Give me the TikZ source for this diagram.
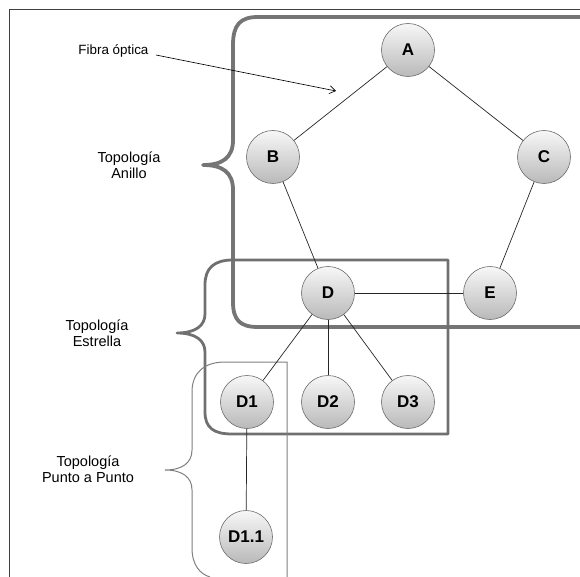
\documentclass[tikz,border=0pt]{standalone}
\usepackage{fontspec}
\setmainfont{Liberation Sans}
\usetikzlibrary{arrows.meta}
\tikzset{
  host/.style={circle, minimum size=53pt, inner sep=0pt, draw=gray!85!black, line width=0.6pt,
    top color=gray!6, bottom color=gray!55, font=\fontsize{17}{17}\selectfont\bfseries},
  link/.style={draw=black!85, line width=0.7pt},
  ringframe/.style={draw=gray!92!black, line width=3.8pt, line join=round},
  starframe/.style={draw=gray!88!black, line width=2.8pt, line join=round},
  ptpframe/.style={draw=gray, line width=1pt},
  grouplabel/.style={align=center, font=\fontsize{14.5}{16.5}\selectfont},
}
\begin{document}
\begin{tikzpicture}[x=1pt, y=-1pt]
\useasboundingbox (0,0) rectangle (580,577);
% page frame (top and left edges)
\draw[draw=gray!50!black, line width=1pt] (9,577) -- (9,10) -- (580,10);

% ring group: brace merged with a rounded box
\draw[ringframe] (580,17) -- (258,17) .. controls (240,17) and (233,25) .. (233,45)
  -- (233,140) .. controls (233,158) and (222,165) .. (203,165)
  .. controls (222,165) and (233,172) .. (233,190)
  -- (233,302) .. controls (233,320) and (240,327) .. (258,327) -- (580,327);

% star group
\draw[starframe] (233,260) -- (448,260) -- (448,434) -- (232,434)
  .. controls (214,434) and (205,428) .. (205,412)
  -- (205,352) .. controls (205,340) and (195,333) .. (177,333)
  .. controls (195,333) and (205,326) .. (205,314)
  -- (205,285) .. controls (205,268) and (214,260) .. (233,260);

% point-to-point group
\draw[ptpframe] (287,577) -- (287,362) -- (225,362)
  .. controls (205,362) and (192,372) .. (192,392)
  -- (192,450) .. controls (192,463) and (182,470) .. (165,470)
  .. controls (182,470) and (192,477) .. (192,490)
  -- (192,548) .. controls (192,565) and (200,574) .. (210,577);

% hosts
\node[host] (A) at (408,50) {A};
\node[host] (B) at (273,157) {B};
\node[host] (C) at (544,157) {C};
\node[host] (D) at (328,293) {D};
\node[host] (E) at (490,293) {E};
\node[host] (D1) at (247,402) {D1};
\node[host] (D2) at (328,402) {D2};
\node[host] (D3) at (408,402) {D3};
\node[host] (D11) at (246,537) {D1.1};

% links
\draw[link] (A) -- (B);
\draw[link] (A) -- (C);
\draw[link] (B) -- (D);
\draw[link] (C) -- (E);
\draw[link] (D) -- (E);
\draw[link] (D) -- (D1);
\draw[link] (D) -- (D2);
\draw[link] (D) -- (D3);
\draw[link] (D1) -- (D11);

% labels
\node[font=\fontsize{13.4}{15}\selectfont, anchor=east] (fibra) at (152,51) {Fibra óptica};
\coordinate (fibtip) at (336,91);
\draw[line width=0.6pt, -{Straight Barb[length=6pt, width=8pt]}] (fibra.east) ++(4,4) -- (fibtip);
\node[grouplabel] (anillo) at (129,165) {Topología\\Anillo};
\node[grouplabel] (estrella) at (97,333) {Topología\\Estrella};
\node[grouplabel] (ptp) at (88,469) {Topología\\Punto a Punto};
\end{tikzpicture}
\end{document}
